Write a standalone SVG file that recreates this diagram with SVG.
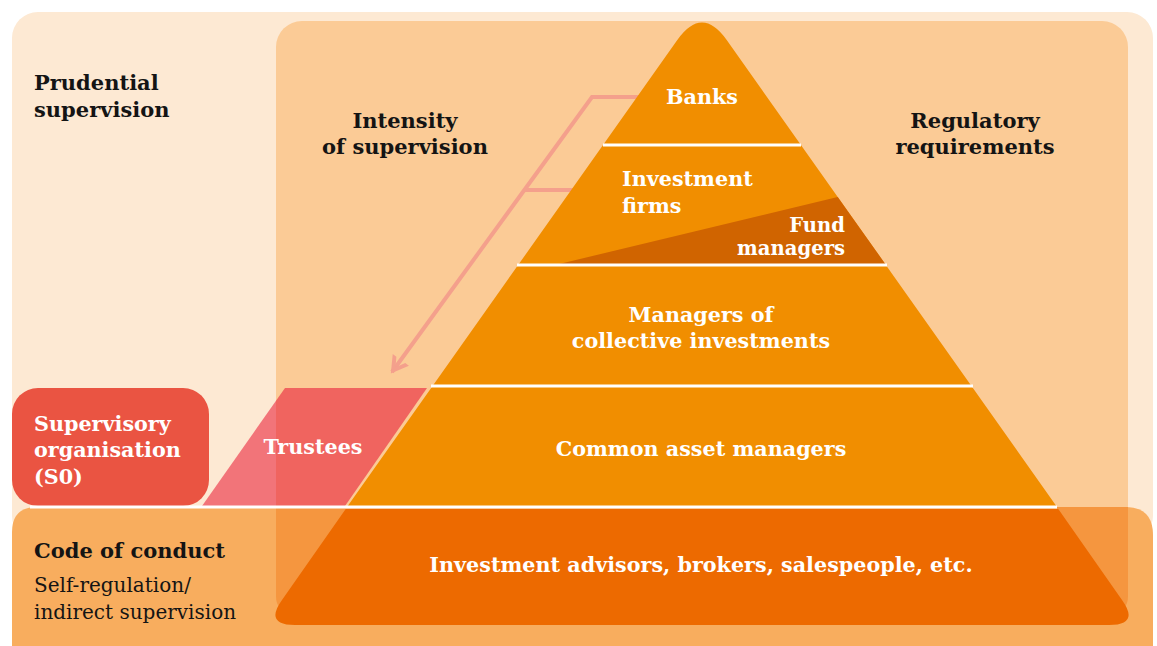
<svg xmlns="http://www.w3.org/2000/svg" width="1157" height="646" viewBox="0 0 1157 646">
<defs>
<style>
.hd{font-family:"DejaVu Serif","Liberation Serif",serif;font-weight:bold;font-size:21px;fill:#141414}
.wt{font-family:"DejaVu Serif","Liberation Serif",serif;font-weight:bold;font-size:20.7px;fill:#ffffff}
.sm{font-size:19.6px}
.rg{font-family:"DejaVu Serif","Liberation Serif",serif;font-size:20px;fill:#141414}
.sep{stroke:#ffffff;stroke-width:3}
.conn{fill:none;stroke:#f4a08c;stroke-width:4}
</style>
<marker id="ah" markerUnits="userSpaceOnUse" markerWidth="30" markerHeight="30" refX="0" refY="0" viewBox="-20 -15 30 30" orient="auto">
<path d="M2,0 L-15,-10 L-15,-5.5 L-6,0 L-15,5.5 L-15,10 Z" fill="#f4a08c"/>
</marker>
</defs>
<g id="background">
<rect x="12" y="12" width="1141" height="530" rx="26" fill="#fde9d3"/>
<rect x="276" y="21" width="852" height="510" rx="26" fill="#fbcb96"/>
<path d="M12,532 Q12,507 37,507 L1125,507 Q1153,507 1153,535 L1153,660 L12,660 Z" fill="#f8ad5e"/>
<path d="M276,507 L1128,507 L1128,596 Q1128,612 1112,612 L292,612 Q276,612 276,596 Z" fill="#f5963f"/>
</g>
<g id="connectors">
<polyline class="conn" points="645,97 592,97 392,372" marker-end="url(#ah)"/>
<line class="conn" x1="525" y1="190" x2="580" y2="190"/>
</g>
<g id="pyramid">
<path d="M347,507 L677.3,40 Q702,5 726.7,40 L1057,507 Z" fill="#f18e00"/>
<polygon points="555,265 886,265 837.7,197" fill="#d06400"/>
<line class="sep" x1="603" y1="145" x2="801" y2="145"/>
<line class="sep" x1="517" y1="265" x2="887" y2="265"/>
<line class="sep" x1="431" y1="386" x2="973" y2="386"/>
</g>
<g id="trustees">
<polygon points="276,400.8 276,506 202,506" fill="#f27479"/>
<polygon points="285,388 427,388 345,506 276,506 276,400.8" fill="#f0645f"/>
<text class="wt" x="313" y="454" text-anchor="middle">Trustees</text>
</g>
<g id="supervisory-organisation">
<rect x="12" y="388" width="197" height="118" rx="26" fill="#ea5442"/>
<text class="wt" x="34" y="431">Supervisory</text>
<text class="wt" x="34" y="457">organisation</text>
<text class="wt" x="34" y="484">(S0)</text>
</g>
<line class="sep" x1="30" y1="507" x2="1057" y2="507"/>
<g id="investment-advisors">
<path d="M345.7,509 L282,600 Q264,625 295,625 L1109,625 Q1140,625 1122,600 L1058.3,509 Z" fill="#ed6a00"/>
<text class="wt" x="701" y="572" text-anchor="middle">Investment advisors, brokers, salespeople, etc.</text>
</g>
<g id="banks"><text class="wt" x="702" y="104" text-anchor="middle">Banks</text></g>
<g id="investment-firms">
<text class="wt" x="622" y="186">Investment</text>
<text class="wt" x="622" y="213">firms</text>
</g>
<g id="fund-managers">
<text class="wt sm" x="845" y="232" text-anchor="end">Fund</text>
<text class="wt sm" x="845" y="255" text-anchor="end">managers</text>
</g>
<g id="managers-collective">
<text class="wt" x="701" y="322" text-anchor="middle">Managers of</text>
<text class="wt" x="701" y="348" text-anchor="middle">collective investments</text>
</g>
<g id="common-asset-managers"><text class="wt" x="701" y="456" text-anchor="middle">Common asset managers</text></g>
<g id="labels">
<text class="hd" x="34" y="90">Prudential</text>
<text class="hd" x="34" y="117">supervision</text>
<text class="hd" x="405" y="128" text-anchor="middle">Intensity</text>
<text class="hd" x="405" y="154" text-anchor="middle">of supervision</text>
<text class="hd" x="975" y="128" text-anchor="middle">Regulatory</text>
<text class="hd" x="975" y="154" text-anchor="middle">requirements</text>
<text class="hd" x="34" y="558">Code of conduct</text>
<text class="rg" x="34" y="592">Self-regulation/</text>
<text class="rg" x="34" y="619">indirect supervision</text>
</g>
</svg>
